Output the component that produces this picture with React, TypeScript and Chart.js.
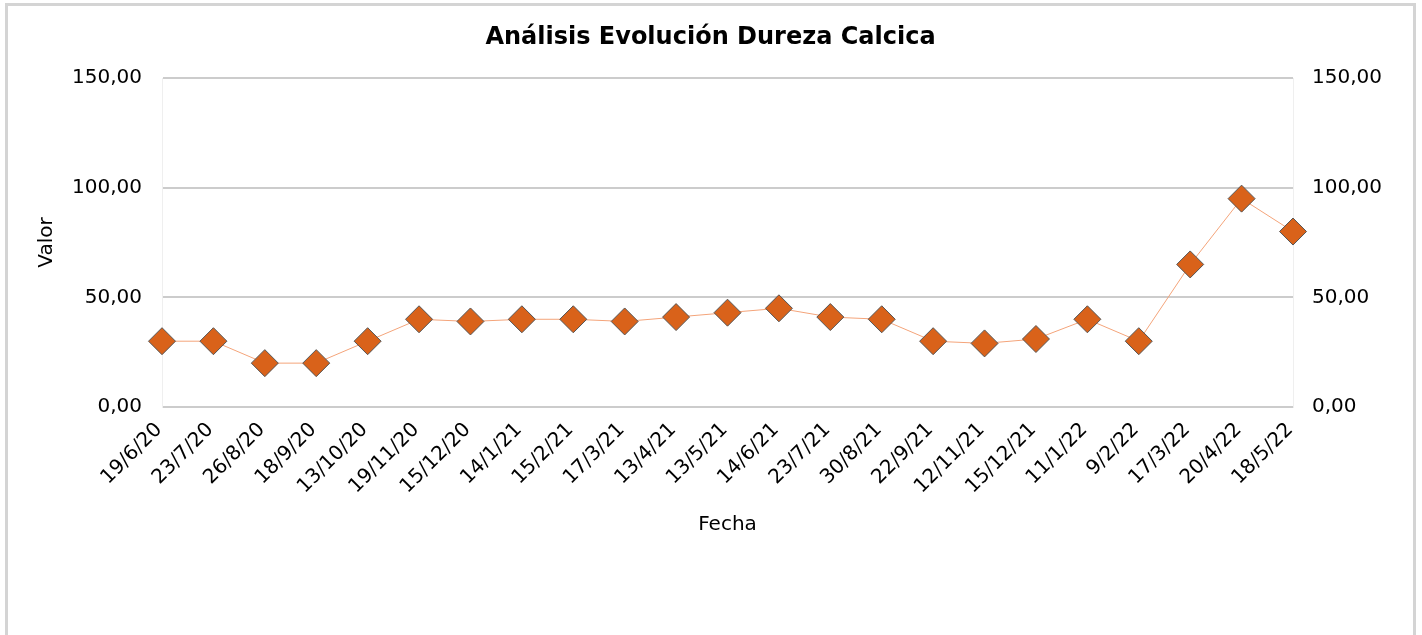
import React, { useEffect, useRef } from "react";
import { Chart, registerables } from "chart.js";

Chart.register(...registerables);

const fechas = [
  "19/6/20", "23/7/20", "26/8/20", "18/9/20", "13/10/20", "19/11/20", "15/12/20",
  "14/1/21", "15/2/21", "17/3/21", "13/4/21", "13/5/21", "14/6/21", "23/7/21",
  "30/8/21", "22/9/21", "12/11/21", "15/12/21", "11/1/22", "9/2/22", "17/3/22",
  "20/4/22", "18/5/22",
];
const valores = [30, 30, 20, 20, 30, 40, 39, 40, 40, 39, 41, 43, 45, 41, 40, 30, 29, 31, 40, 30, 65, 95, 80];
const yMin = 0;
const yMax = 150;
const yStep = 50;

const FONT = "'DejaVu Sans', Verdana, sans-serif";
const fmt = (v: number | string) => Number(v).toFixed(2).replace(".", ",");

export default function App() {
  const ref = useRef<HTMLCanvasElement>(null);

  useEffect(() => {
    document.documentElement.style.overflow = "hidden";
    document.body.style.overflow = "hidden";
    const chart = new Chart(ref.current!, {
      type: "line",
      data: {
        labels: fechas,
        datasets: [
          {
            label: "Valor",
            data: valores,
            borderColor: "#f4a47a",
            borderWidth: 1,
            pointStyle: "rectRot",
            pointRadius: 13.5,
            pointHoverRadius: 13.5,
            pointBackgroundColor: "#d9621a",
            pointBorderColor: "#555555",
            pointBorderWidth: 1,
            yAxisID: "y",
            clip: false as any,
          },
        ],
      },
      options: {
        responsive: false,
        animation: false,
        devicePixelRatio: 1,
        layout: { padding: 0 },
        plugins: {
          legend: { display: false },
          tooltip: { enabled: false },
          title: {
            display: true,
            text: "Análisis Evolución Dureza Calcica",
            color: "#000",
            font: { family: FONT, size: 24, weight: "bold" },
            padding: { top: 17.6, bottom: 25.6 },
          },
        },
        scales: {
          x: {
            offset: false,
            grid: { display: false, drawTicks: false },
            border: { display: false },
            ticks: {
              autoSkip: false,
              maxRotation: 45,
              minRotation: 45,
              padding: 11,
              labelOffset: -3,
              color: "#000",
              font: { family: FONT, size: 20 },
            },
            title: {
              display: true,
              text: "Fecha",
              color: "#000",
              font: { family: FONT, size: 20 },
              padding: { top: 0, bottom: 123 },
            },
            afterFit: (s: any) => {
              s.height = 253;
            },
          },
          y: {
            position: "left",
            min: yMin,
            max: yMax,
            grid: { color: "#cccccc", lineWidth: 2, drawTicks: false },
            border: { display: true, color: "#efefef", width: 1 },
            ticks: {
              stepSize: yStep,
              padding: 20,
              color: "#000",
              font: { family: FONT, size: 20 },
              callback: (v: any) => fmt(v),
            },
            title: {
              display: true,
              text: "Valor",
              color: "#000",
              font: { family: FONT, size: 20 },
              padding: { top: 27, bottom: 0 },
            },
            afterFit: (s: any) => {
              s.width = 154;
            },
          },
          y2: {
            position: "right",
            min: yMin,
            max: yMax,
            grid: { display: false, drawTicks: false },
            border: { display: true, color: "#efefef", width: 1 },
            ticks: {
              stepSize: yStep,
              padding: 19,
              color: "#000",
              font: { family: FONT, size: 20 },
              callback: (v: any) => fmt(v),
            },
            afterFit: (s: any) => {
              s.width = 120;
            },
          },
        },
      },
    });
    return () => chart.destroy();
  }, []);

  return (
    <div
      style={{
        position: "fixed",
        left: 5,
        top: 3,
        width: 1411,
        height: 660,
        boxSizing: "border-box",
        border: "3px solid #d4d4d4",
        background: "#fff",
      }}
    >
      <canvas ref={ref} width={1405} height={654} style={{ display: "block", width: 1405, height: 654 }} />
    </div>
  );
}
